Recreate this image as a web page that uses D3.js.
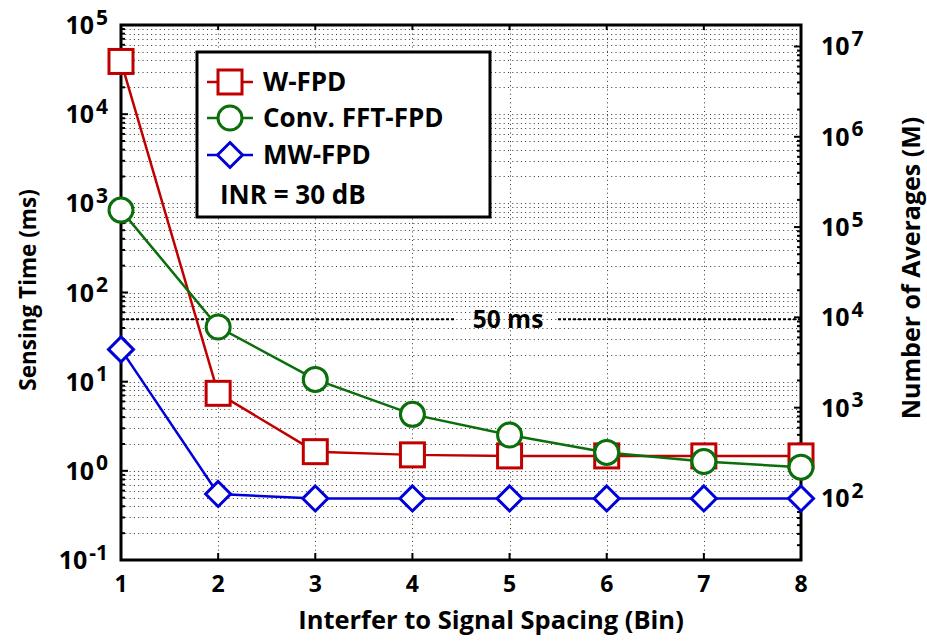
<!DOCTYPE html>
<html><head><meta charset="utf-8">
<script src="https://cdn.jsdelivr.net/npm/d3@7"></script>
<style>
body{margin:0;background:#fff}
text{font-family:"Open Sans",Lato,sans-serif;font-weight:700;fill:#000}
</style></head><body>
<svg id="chart" width="927" height="641"></svg>
<script>
// Sensing time versus interferer-to-signal spacing, INR = 30 dB
const spacing = [1, 2, 3, 4, 5, 6, 7, 8];
const wFpd    = [39000, 7.4, 1.64, 1.51, 1.47, 1.47, 1.47, 1.47];
const convFft = [840, 41, 10.6, 4.3, 2.52, 1.61, 1.27, 1.10];
const mwFpd   = [23, 0.55, 0.49, 0.49, 0.49, 0.49, 0.49, 0.49];
const seriesNames  = ["W-FPD", "Conv. FFT-FPD", "MW-FPD"];
const leftDecades  = [-1, 0, 1, 2, 3, 4, 5];
const rightDecades = [2, 3, 4, 5, 6, 7];
const thresholdMs  = 50;
const thresholdLabel = "50 ms";
const legendNote = "INR = 30 dB";

const svg = d3.select("#chart");
const m = {l: 121, r: 801, t: 25, b: 560};

const x = d3.scaleLinear().domain([1, 8]).range([m.l, m.r]);
const y = d3.scaleLog().domain([0.1, 1e5]).range([m.b, m.t]);
const yR = d3.scaleLog().domain([Math.pow(10, 1.313), Math.pow(10, 7.238)]).range([m.b, m.t]);

const isDecade = v => Math.abs(Math.log10(v) - Math.round(Math.log10(v))) < 1e-6;

// dotted grid
const grid = svg.append("g").attr("stroke", "#333").attr("stroke-width", 1).attr("stroke-dasharray", "1,3.3");
grid.selectAll("line.h").data(y.ticks()).join("line")
  .attr("x1", m.l).attr("x2", m.r).attr("y1", d => Math.round(y(d)) + 0.5).attr("y2", d => Math.round(y(d)) + 0.5);
grid.selectAll("line.v").data(spacing.slice(1, -1)).join("line")
  .attr("y1", m.t).attr("y2", m.b).attr("x1", d => Math.round(x(d)) + 0.5).attr("x2", d => Math.round(x(d)) + 0.5);

// 50 ms threshold
const thY = y(thresholdMs);
const th = svg.append("g").attr("stroke", "#000").attr("stroke-width", 2).attr("stroke-dasharray", "3,2");
th.append("line").attr("x1", m.l).attr("x2", 455).attr("y1", thY).attr("y2", thY);
th.append("line").attr("x1", 558).attr("x2", m.r).attr("y1", thY).attr("y2", thY);
svg.append("text").attr("x", 508).attr("y", thY).attr("dy", "0.36em").attr("text-anchor", "middle")
  .style("font-size", "24.5px").text(thresholdLabel);

// axis ticks (inward)
const tickG = svg.append("g").attr("stroke", "#000").attr("stroke-width", 2);
tickG.selectAll("line.l").data(y.ticks()).join("line")
  .attr("x1", m.l).attr("x2", d => m.l + (isDecade(d) ? 7 : 4)).attr("y1", d => y(d)).attr("y2", d => y(d));
tickG.selectAll("line.r").data(yR.ticks()).join("line")
  .attr("x1", m.r).attr("x2", d => m.r - (isDecade(d) ? 7 : 4)).attr("y1", d => yR(d)).attr("y2", d => yR(d));
tickG.selectAll("line.b").data(spacing).join("line")
  .attr("y1", m.b).attr("y2", m.b - 7).attr("x1", d => x(d)).attr("x2", d => x(d));
tickG.selectAll("line.t").data(spacing).join("line")
  .attr("y1", m.t).attr("y2", m.t + 5).attr("x1", d => x(d)).attr("x2", d => x(d));

// frame
svg.append("rect").attr("x", m.l).attr("y", m.t).attr("width", m.r - m.l).attr("height", m.b - m.t)
  .attr("fill", "none").attr("stroke", "#000").attr("stroke-width", 3);

// tick labels
function powLabel(g, v, px, py, anchorEnd) {
  const t = g.append("text").attr("y", py).attr("dy", "0.36em").style("font-size", "25px");
  t.append("tspan").text("10");
  t.append("tspan").attr("dy", "-0.45em").attr("dx", "2").style("font-size", "21px").text(v);
  t.attr("x", px);
  if (anchorEnd) t.attr("text-anchor", "end");
}
const lab = svg.append("g");
leftDecades.forEach(k => powLabel(lab, k, 108, y(Math.pow(10, k)), true));
rightDecades.forEach(k => powLabel(lab, k, 821, yR(Math.pow(10, k)), false));
lab.selectAll("text.xt").data(spacing).join("text")
  .attr("x", d => x(d)).attr("y", 584).attr("dy", "0.36em").attr("text-anchor", "middle")
  .style("font-size", "23px").text(d => d);

// axis titles
svg.append("text").attr("x", 491).attr("y", 620).attr("dy", "0.36em").attr("text-anchor", "middle")
  .style("font-size", "25.5px").text("Interfer to Signal Spacing (Bin)");
svg.append("text").attr("transform", "translate(28,290) rotate(-90)").attr("dy", "0.36em").attr("text-anchor", "middle")
  .style("font-size", "22.5px").text("Sensing Time (ms)");
svg.append("text").attr("transform", "translate(911,268) rotate(-90)").attr("dy", "0.36em").attr("text-anchor", "middle")
  .style("font-size", "25px").text("Number of Averages (M)");

// marker shapes
const styles = [
  {color: "#c00000", shape: "square"},
  {color: "#0a6e0a", shape: "circle"},
  {color: "#0000d8", shape: "diamond"}
];
function marker(g, shape, cx, cy) {
  if (shape === "square") g.append("rect").attr("x", cx - 12).attr("y", cy - 12).attr("width", 24).attr("height", 24);
  else if (shape === "circle") g.append("circle").attr("cx", cx).attr("cy", cy).attr("r", 12);
  else g.append("path").attr("d", `M${cx},${cy - 12.5}L${cx + 12.5},${cy}L${cx},${cy + 12.5}L${cx - 12.5},${cy}Z`);
}

const allSeries = [wFpd, convFft, mwFpd];
const line = d3.line().x((d, i) => x(spacing[i])).y(d => y(d));
allSeries.forEach((vals, si) => {
  const st = styles[si];
  const g = svg.append("g");
  g.append("path").datum(vals).attr("d", line).attr("fill", "none").attr("stroke", st.color).attr("stroke-width", 2.5);
  const mg = g.append("g").attr("fill", "#fff").attr("stroke", st.color).attr("stroke-width", 3);
  vals.forEach((v, i) => marker(mg, st.shape, x(spacing[i]), y(v)));
});

// legend
const lg = svg.append("g");
lg.append("rect").attr("x", 197).attr("y", 52).attr("width", 293).attr("height", 165)
  .attr("fill", "#fff").attr("stroke", "#000").attr("stroke-width", 3);
const rowY = [82, 118, 155];
seriesNames.forEach((name, i) => {
  const st = styles[i];
  lg.append("line").attr("x1", 207).attr("x2", 253).attr("y1", rowY[i]).attr("y2", rowY[i])
    .attr("stroke", st.color).attr("stroke-width", 2.5);
  const mg = lg.append("g").attr("fill", "#fff").attr("stroke", st.color).attr("stroke-width", 3);
  marker(mg, st.shape, 230, rowY[i]);
  lg.append("text").attr("x", 263).attr("y", rowY[i]).attr("dy", "0.36em").style("font-size", "26px").text(name);
});
lg.append("text").attr("x", 220).attr("y", 195).attr("dy", "0.36em").style("font-size", "26px").text(legendNote);
</script>
</body></html>
